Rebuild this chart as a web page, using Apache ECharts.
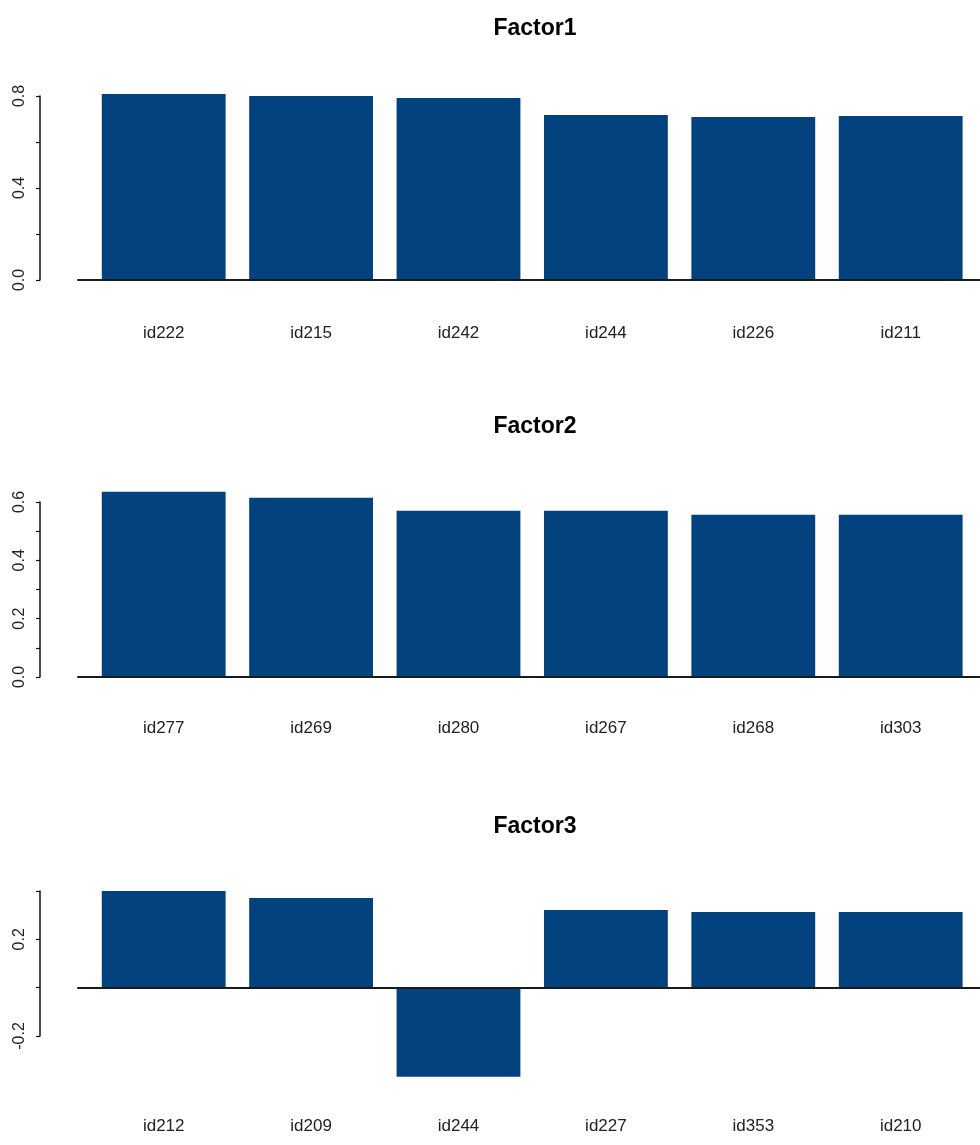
<!DOCTYPE html>
<html>
<head>
<meta charset="utf-8">
<script src="https://cdn.jsdelivr.net/npm/echarts@6/dist/echarts.min.js"></script>
<style>
html,body{margin:0;padding:0;background:#fff;}
#c{width:980px;height:1145px;}
</style>
</head>
<body>
<div id="c"></div>
<script>
// ---- data ----
const titles = ['Factor1', 'Factor2', 'Factor3'];
const cats1 = ['id222', 'id215', 'id242', 'id244', 'id226', 'id211'];
const vals1 = [0.809, 0.800, 0.791, 0.717, 0.709, 0.713];
const cats2 = ['id277', 'id269', 'id280', 'id267', 'id268', 'id303'];
const vals2 = [0.635, 0.615, 0.570, 0.570, 0.556, 0.556];
const cats3 = ['id212', 'id209', 'id244', 'id227', 'id353', 'id210'];
const vals3 = [0.400, 0.371, -0.369, 0.321, 0.313, 0.313];
const yRange1 = [0, 0.8, 0.2], yLabels1 = [0, 0.4, 0.8];
const yRange2 = [0, 0.6, 0.1], yLabels2 = [0, 0.2, 0.4, 0.6];
const yRange3 = [-0.2, 0.4, 0.2], yLabels3 = [-0.2, 0.2];

const FONT = "'Liberation Sans', Arial, sans-serif";
const BAR = '#01427f';

const panels = [
  {cats: cats1, vals: vals1, yr: yRange1, yl: yLabels1, top: 96, height: 184, labMargin: 45, titleTop: 12},
  {cats: cats2, vals: vals2, yr: yRange2, yl: yLabels2, top: 502, height: 175, labMargin: 43, titleTop: 410},
  {cats: cats3, vals: vals3, yr: yRange3, yl: yLabels3, top: 891, height: 145, labMargin: 82, titleTop: 810}
];

const grid = [], xAxis = [], yAxis = [], series = [], title = [];
panels.forEach((p, i) => {
  const gA = grid.length;
  grid.push({left: 90, width: 884.4, top: p.top, height: p.height});
  grid.push({left: 78, right: -20, top: p.top, height: p.height});
  title.push({
    text: titles[i], left: 530, textAlign: 'center', top: p.titleTop,
    textStyle: {fontFamily: FONT, fontWeight: 'bold', fontSize: 23, color: '#000'}
  });
  // category axis carrying labels
  xAxis.push({
    type: 'category', gridIndex: gA, data: p.cats,
    axisLine: {show: false, onZero: false}, axisTick: {show: false},
    axisLabel: {margin: p.labMargin, fontFamily: FONT, fontSize: 17, color: '#222'}
  });
  // baseline axis at zero spanning the wider grid
  xAxis.push({
    type: 'category', gridIndex: gA + 1, data: p.cats,
    axisLine: {show: true, onZero: true, lineStyle: {color: '#1a1a1a', width: 2}},
    axisTick: {show: false}, axisLabel: {show: false}, z: 5
  });
  const yl = p.yl;
  yAxis.push({
    type: 'value', gridIndex: gA, min: p.yr[0], max: p.yr[1], interval: p.yr[2],
    offset: 50, splitLine: {show: false}, z: 5,
    axisLine: {show: true, onZero: false, lineStyle: {color: '#111', width: 1.5}},
    axisTick: {show: true, inside: false, length: 4, lineStyle: {color: '#111', width: 1.2}},
    axisLabel: {
      rotate: 90, margin: 12, fontFamily: FONT, fontSize: 16, color: '#222',
      formatter: v => yl.some(t => Math.abs(t - v) < 1e-9) ? v.toFixed(1) : ''
    }
  });
  yAxis.push({
    type: 'value', gridIndex: gA + 1, min: p.yr[0], max: p.yr[1], interval: p.yr[2],
    show: false, splitLine: {show: false}
  });
  series.push({
    type: 'bar', xAxisIndex: gA, yAxisIndex: gA, data: p.vals,
    barCategoryGap: '16%', clip: false,
    itemStyle: {color: BAR}
  });
});

const chart = echarts.init(document.getElementById('c'));
chart.setOption({
  animation: false,
  backgroundColor: '#fff',
  title, grid, xAxis, yAxis, series
});
</script>
</body>
</html>
